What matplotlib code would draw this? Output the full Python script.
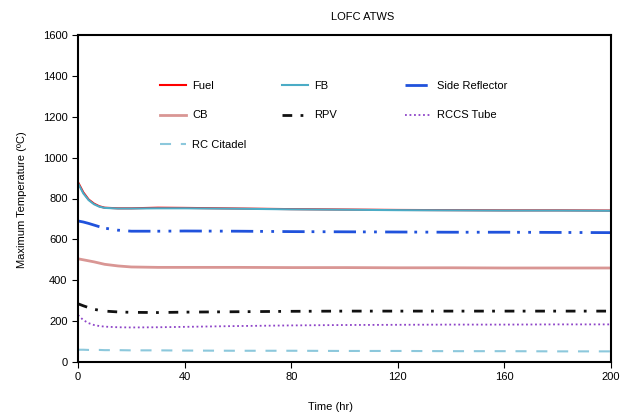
import matplotlib; matplotlib.use("Agg")
import matplotlib.pyplot as plt

plt.rcParams["font.family"] = ["Liberation Sans", "DejaVu Sans"]

# time (hr) and max temperatures (C)
t = [0, 2, 4, 6, 8, 10, 15, 20, 30, 40, 60, 80, 100, 120, 140, 160, 180, 200]
fuel = [880, 830, 795, 775, 762, 755, 752, 752, 755, 754, 751, 748, 746, 744, 743, 742, 742, 741]
fb = [875, 825, 792, 772, 760, 754, 751, 751, 752, 752, 750, 747, 745, 743, 742, 741, 741, 740]
side = [690, 685, 678, 670, 662, 655, 645, 640, 640, 641, 640, 638, 637, 636, 635, 635, 634, 633]
cb = [505, 500, 495, 490, 484, 478, 470, 465, 463, 463, 463, 462, 462, 461, 461, 460, 460, 460]
rpv = [285, 275, 266, 258, 253, 249, 245, 243, 242, 244, 246, 248, 249, 249, 249, 249, 249, 249]
rccs = [230, 205, 190, 181, 176, 173, 170, 169, 170, 172, 176, 179, 181, 182, 183, 183, 184, 184]
citadel = [60, 60, 59, 59, 59, 58, 58, 57, 57, 56, 55, 55, 54, 54, 53, 53, 52, 52]

fig = plt.figure(figsize=(6.36, 4.16), dpi=100)
ax = fig.add_axes([78/636, 1-362/416, 533/636, 327/416])

h_fuel, = ax.plot(t, fuel, color="#FF0000", lw=1.5, label="Fuel")
h_fb, = ax.plot(t, fb, color="#4BACC6", lw=1.5, label="FB")
h_side, = ax.plot(t, side, color="#2052DC", lw=2, dashes=(8, 2.5, 1, 3, 1, 3), label="Side Reflector")
h_cb, = ax.plot(t, cb, color="#D99694", lw=2, label="CB")
h_rpv, = ax.plot(t, rpv, color="#111111", lw=2, dashes=(3.5, 3, 1, 3.5), label="RPV")
h_rccs, = ax.plot(t, rccs, color="#8E44C8", lw=1.3, ls=(0, (1, 1.5)), label="RCCS Tube")
h_cit, = ax.plot(t, citadel, color="#8CC8DC", lw=1.5, dashes=(5.3, 4.7), label="RC Citadel")

ax.set_xlim(0, 200); ax.set_ylim(0, 1600)
ax.set_xticks(range(0, 201, 40)); ax.set_yticks(range(0, 1601, 200))
ax.tick_params(labelsize=8, length=4, direction="out")
for s in ax.spines.values():
    s.set_linewidth(1.5)

# one legend per column, placed like the reference
cols = [([h_fuel, h_cb, h_cit], 160), ([h_fb, h_rpv], 282), ([h_side, h_rccs], 405)]
for i, (hs, x) in enumerate(cols):
    lg = ax.legend(handles=hs, frameon=False, fontsize=8, loc="upper left",
                   bbox_to_anchor=(x/636, 1-81/416), bbox_transform=fig.transFigure,
                   handlelength=2.3, handletextpad=0.6, labelspacing=1.75,
                   borderpad=0, borderaxespad=0)
    if i < len(cols) - 1:
        ax.add_artist(lg)

fig.text(363/636, 1-17/416, "LOFC ATWS", ha="center", va="center", fontsize=8)
fig.text(330/636, 1-407/416, "Time (hr)", ha="center", va="center", fontsize=8)
fig.text(22/636, 1-200/416, "Maximum Temperature (ºC)", ha="center", va="center",
         rotation=90, fontsize=8)

fig.savefig("out.png", dpi=100)
